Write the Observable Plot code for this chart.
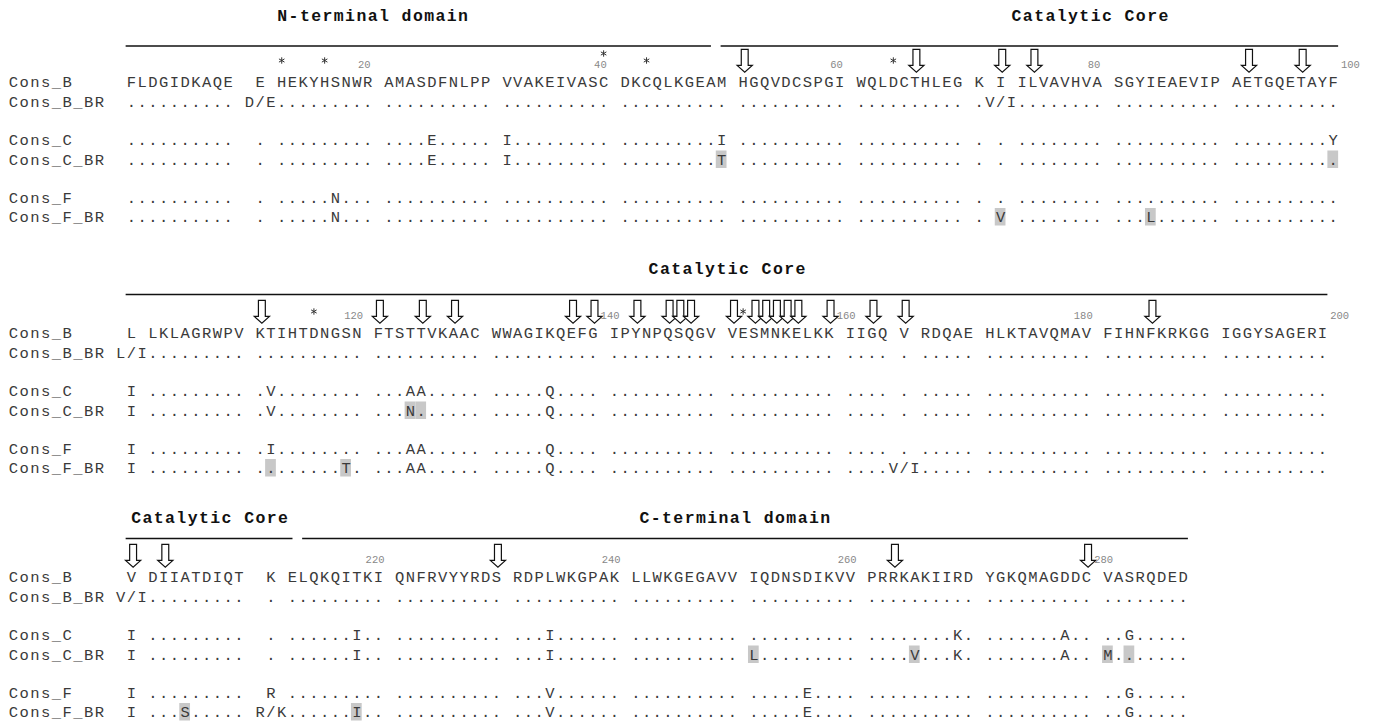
<!DOCTYPE html>
<html>
<head>
<meta charset="utf-8">
<script src="https://cdn.jsdelivr.net/npm/d3@7"></script>
<script src="https://cdn.jsdelivr.net/npm/@observablehq/plot@0.6"></script>
<style>
  html, body { margin: 0; padding: 0; background: #fff; }
</style>
</head>
<body>
<div id="chart"></div>
<script>
// ---------------- DATA ----------------
const rowNames = ["Cons_B", "Cons_B_BR", "Cons_C", "Cons_C_BR", "Cons_F", "Cons_F_BR"];
const blockFirstResidue = [1, 101, 201];

// Each string: first character sits one column left of residue column 0
const block1 = [
  " FLDGIDKAQE  E HEKYHSNWR AMASDFNLPP VVAKEIVASC DKCQLKGEAM HGQVDCSPGI WQLDCTHLEG K I ILVAVHVA SGYIEAEVIP AETGQETAYF",
  " .......... D/E......... .......... .......... .......... .......... .......... .V/I........ .......... ..........",
  " ..........  . ......... ....E..... I......... .........I .......... .......... . . ........ .......... .........Y",
  " ..........  . ......... ....E..... I......... .........T .......... .......... . . ........ .......... ..........",
  " ..........  . .....N... .......... .......... .......... .......... .......... . . ........ .......... ..........",
  " ..........  . .....N... .......... .......... .......... .......... .......... . V ........ ...L...... .........."
];
const block2 = [
  " L LKLAGRWPV KTIHTDNGSN FTSTTVKAAC WWAGIKQEFG IPYNPQSQGV VESMNKELKK IIGQ V RDQAE HLKTAVQMAV FIHNFKRKGG IGGYSAGERI",
  "L/I......... .......... .......... .......... .......... .......... .... . ..... .......... .......... ..........",
  " I ......... .V........ ...AA..... .....Q.... .......... .......... .... . ..... .......... .......... ..........",
  " I ......... .V........ ...N...... .....Q.... .......... .......... .... . ..... .......... .......... ..........",
  " I ......... .I........ ...AA..... .....Q.... .......... .......... .... . ..... .......... .......... ..........",
  " I ......... ........T. ...AA..... .....Q.... .......... .......... ....V/I..... .......... .......... .........."
];
const block3 = [
  " V DIIATDIQT  K ELQKQITKI QNFRVYYRDS RDPLWKGPAK LLWKGEGAVV IQDNSDIKVV PRRKAKIIRD YGKQMAGDDC VASRQDED",
  "V/I.........  . ......... .......... .......... .......... .......... .......... .......... ........",
  " I .........  . ......I.. .......... ...I...... .......... .......... ........K. .......A.. ..G.....",
  " I .........  . ......I.. .......... ...I...... .......... L......... ....V...K. .......A.. M.......",
  " I .........  R ......... .......... ...V...... .......... .....E.... .......... .......... ..G.....",
  " I ...S..... R/K......I.. .......... ...V...... .......... .....E.... .......... .......... ..G....."
];

const arrowResidues = [51, 66, 72, 74, 92, 97,
  111, 121, 125, 128, 138, 140, 143, 146, 147, 148, 151, 153, 154, 155, 156, 157, 160, 163, 165, 185,
  201, 203, 230, 263, 280];
const starResidues = [12, 16, 40, 43, 64, 116, 152];
const tickResidues = [20, 40, 60, 80, 100, 120, 140, 160, 180, 200, 220, 240, 260, 280];
const highlightConsC_BR = [50, 100, 124, 125, 251, 265, 281, 283];
const highlightConsF_BR = [72, 84, 112, 119, 205, 218];

const domainNames = ["N-terminal domain", "Catalytic Core", "C-terminal domain"];
const domainStart = [1, 50, 213];
const domainEnd = [49, 212, 288];

// ---------------- LAYOUT ----------------
const W = 1377, H = 721;
const COL0 = 131, PITCH = 10.73;      // pixel centre of column 0, column pitch
const blockTop = [82, 333, 577];       // y of Cons_B row per block
const rowOffset = [0, 20, 58, 77.5, 115.5, 135];
const lineOffset = [36.5, 39, 39];
const titleOffset = [67, 65, 60];
const titleNudge = {"0-0": -4.3, "0-1": 5.6, "2-2": -1};
const TITLE_PITCH = 11.3 / PITCH;

const blocks = [block1, block2, block3];

// residue -> {block, column}
const resPos = new Map();
const blockLast = [];
blocks.forEach((rows, b) => {
  let r = blockFirstResidue[b];
  [...rows[0]].forEach((ch, i) => {
    if (/[A-Z]/.test(ch)) { resPos.set(r, {b, col: i - 1}); r++; }
  });
  blockLast.push(r - 1);
});

// characters
const chars = [];
blocks.forEach((rows, b) => rows.forEach((s, r) => {
  const y = blockTop[b] + rowOffset[r];
  [...rowNames[r]].forEach((ch, i) => chars.push({x: i - 11, y, ch}));
  [...s].forEach((ch, i) => { if (ch !== " ") chars.push({x: i - 1, y, ch}); });
}));

// highlights
const hl = [];
[["Cons_C_BR", highlightConsC_BR], ["Cons_F_BR", highlightConsF_BR]].forEach(([name, list]) => {
  const r = rowNames.indexOf(name);
  list.forEach(res => {
    const p = resPos.get(res);
    const y = blockTop[p.b] + rowOffset[r];
    hl.push({x1: p.col - 0.5, x2: p.col + 0.5, y1: y - 9, y2: y + 8.5});
  });
});

// domain bars & titles
const segs = [], titleChars = [];
blocks.forEach((rows, b) => {
  const first = blockFirstResidue[b], last = blockLast[b];
  domainNames.forEach((name, d) => {
    const s = Math.max(first, domainStart[d]), e = Math.min(last, domainEnd[d]);
    if (s > e) return;
    const cs = resPos.get(s).col, ce = resPos.get(e).col;
    const x1 = s === first ? cs - 0.5 : (resPos.get(s - 1).col + cs) / 2 + 0.45;
    const x2 = e === last ? ce + 0.5 : (ce + resPos.get(e + 1).col) / 2 - 0.45;
    const y = blockTop[b] - lineOffset[b];
    segs.push({x1, x2, y});
    const cx = (x1 + x2) / 2 + (titleNudge[b + "-" + d] ?? 0);
    const ty = blockTop[b] - titleOffset[b];
    const n = name.length;
    [...name].forEach((ch, i) => {
      if (ch !== " ") titleChars.push({x: cx + (i - (n - 1) / 2) * TITLE_PITCH, y: ty, ch});
    });
  });
});

const arrows = arrowResidues.map(res => {
  const p = resPos.get(res);
  return {x: p.col + 0.15, y: blockTop[p.b] - 21.7};
});
const stars = starResidues.map(res => {
  const p = resPos.get(res);
  return {x: p.col, y: blockTop[p.b] - (tickResidues.includes(res) ? 29 : 22)};
});
const ticks = tickResidues.map(res => {
  const p = resPos.get(res);
  const shift = (arrowResidues.includes(res) || blockLast.includes(res)) ? 1.6 : -0.3;
  return {x: p.col + shift, y: blockTop[p.b] - 17.5, label: String(res)};
});

const arrowSymbol = {
  draw(context, size) {
    const h = Math.sqrt(size / Math.PI);
    const w1 = 0.3 * h, w2 = 0.66 * h, hs = 0.4 * h;
    context.moveTo(-w1, -h);
    context.lineTo(w1, -h);
    context.lineTo(w1, hs);
    context.lineTo(w2, hs);
    context.lineTo(0, h);
    context.lineTo(-w2, hs);
    context.lineTo(-w1, hs);
    context.closePath();
  }
};

const FONT = "'Courier New', 'Nimbus Mono PS', FreeMono, 'Liberation Mono', monospace";
const chart = Plot.plot({
  width: W, height: H,
  margin: 0,
  style: {background: "#fff"},
  x: {domain: [-COL0 / PITCH, (W - COL0) / PITCH], range: [0, W], axis: null},
  y: {domain: [0, H], range: [0, H], axis: null},
  marks: [
    Plot.rect(hl, {x1: "x1", x2: "x2", y1: "y1", y2: "y2", fill: "#c8c8c8"}),
    Plot.ruleY(segs, {y: "y", x1: "x1", x2: "x2", stroke: "#111", strokeWidth: 1.5}),
    Plot.text(titleChars, {x: "x", y: "y", text: "ch", fontFamily: FONT, fontWeight: "bold", fontSize: 16.5, fill: "#111"}),
    Plot.dot(arrows, {x: "x", y: "y", r: 11.5, symbol: arrowSymbol, fill: "white", stroke: "#111", strokeWidth: 1.2}),
    Plot.dot(stars, {x: "x", y: "y", r: 3, symbol: "asterisk", stroke: "#333", strokeWidth: 1}),
    Plot.text(ticks, {x: "x", y: "y", text: "label", fontFamily: FONT, fontSize: 10.5, fill: "#888"}),
    Plot.text(chars, {x: "x", y: "y", text: "ch", fontFamily: FONT, fontSize: 15.5, fill: "#3a3a3a"})
  ]
});
document.getElementById("chart").appendChild(chart);
</script>
</body>
</html>
